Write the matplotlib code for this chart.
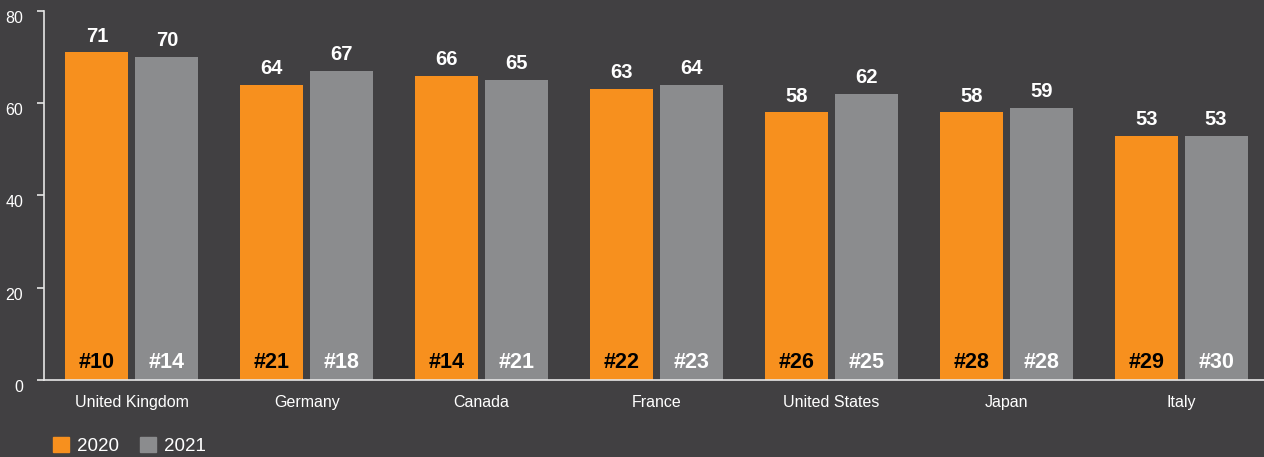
import numpy as np
import matplotlib.pyplot as plt
from matplotlib.patches import Patch

countries = ["United Kingdom", "Germany", "Canada", "France", "United States", "Japan", "Italy"]
score_2020 = [71, 64, 66, 63, 58, 58, 53]
score_2021 = [70, 67, 65, 64, 62, 59, 53]
rank_2020 = ["#10", "#21", "#14", "#22", "#26", "#28", "#29"]
rank_2021 = ["#14", "#18", "#21", "#23", "#25", "#28", "#30"]

bg = "#414042"
orange = "#F7901E"
grey = "#8B8C8E"
fg = "#FFFFFF"

plt.rcParams["font.family"] = ["Liberation Sans", "DejaVu Sans"]

fig = plt.figure(figsize=(12.64, 4.57), dpi=100, facecolor=bg)
ax = fig.add_axes([0.0348, 0.1685, 0.9652, 0.8075], facecolor=bg)

x = np.arange(len(countries))
w = 0.36
off = 0.2
b1 = ax.bar(x - off, score_2020, w, color=orange)
b2 = ax.bar(x + off, score_2021, w, color=grey)

# score on top, ranking at the foot of each bar
for bars, vals, ranks, rc in [(b1, score_2020, rank_2020, "black"),
                              (b2, score_2021, rank_2021, fg)]:
    for b, v, r in zip(bars, vals, ranks):
        cx = b.get_x() + b.get_width() / 2
        ax.annotate(str(v), (cx, v), xytext=(0, 5), textcoords="offset points",
                    ha="center", va="bottom", color=fg, fontsize=14.5, fontweight="bold")
        ax.annotate(r, (cx, 0), xytext=(0, 5), textcoords="offset points",
                    ha="center", va="bottom", color=rc, fontsize=15.5, fontweight="bold")

ax.set_xlim(-0.503, 6.474)
ax.set_ylim(0, 80)
ax.set_yticks([0, 20, 40, 60, 80])
ax.set_xticks(x)
ax.set_xticklabels(countries)

for s in ["top", "right"]:
    ax.spines[s].set_visible(False)
for s in ["left", "bottom"]:
    ax.spines[s].set_color("#E6E6E6")
    ax.spines[s].set_linewidth(1.2)

ax.tick_params(axis="y", colors="#E6E6E6", labelcolor=fg, labelsize=11.5, length=5, width=1.2, pad=10)
ax.tick_params(axis="x", length=0, labelcolor=fg, labelsize=11.5, pad=11)
for lbl in ax.get_yticklabels():
    lbl.set_verticalalignment("top")

handles = [Patch(color=orange, label="2020"), Patch(color=grey, label="2021")]
leg = fig.legend(handles=handles, loc="lower left", bbox_to_anchor=(0.036, -0.012), ncol=2,
                 frameon=False, fontsize=13.5, handlelength=0.85, handleheight=0.85,
                 handletextpad=0.45, columnspacing=1.1, borderaxespad=0)
for t in leg.get_texts():
    t.set_color(fg)

fig.savefig("out.png", dpi=100, facecolor=bg)
